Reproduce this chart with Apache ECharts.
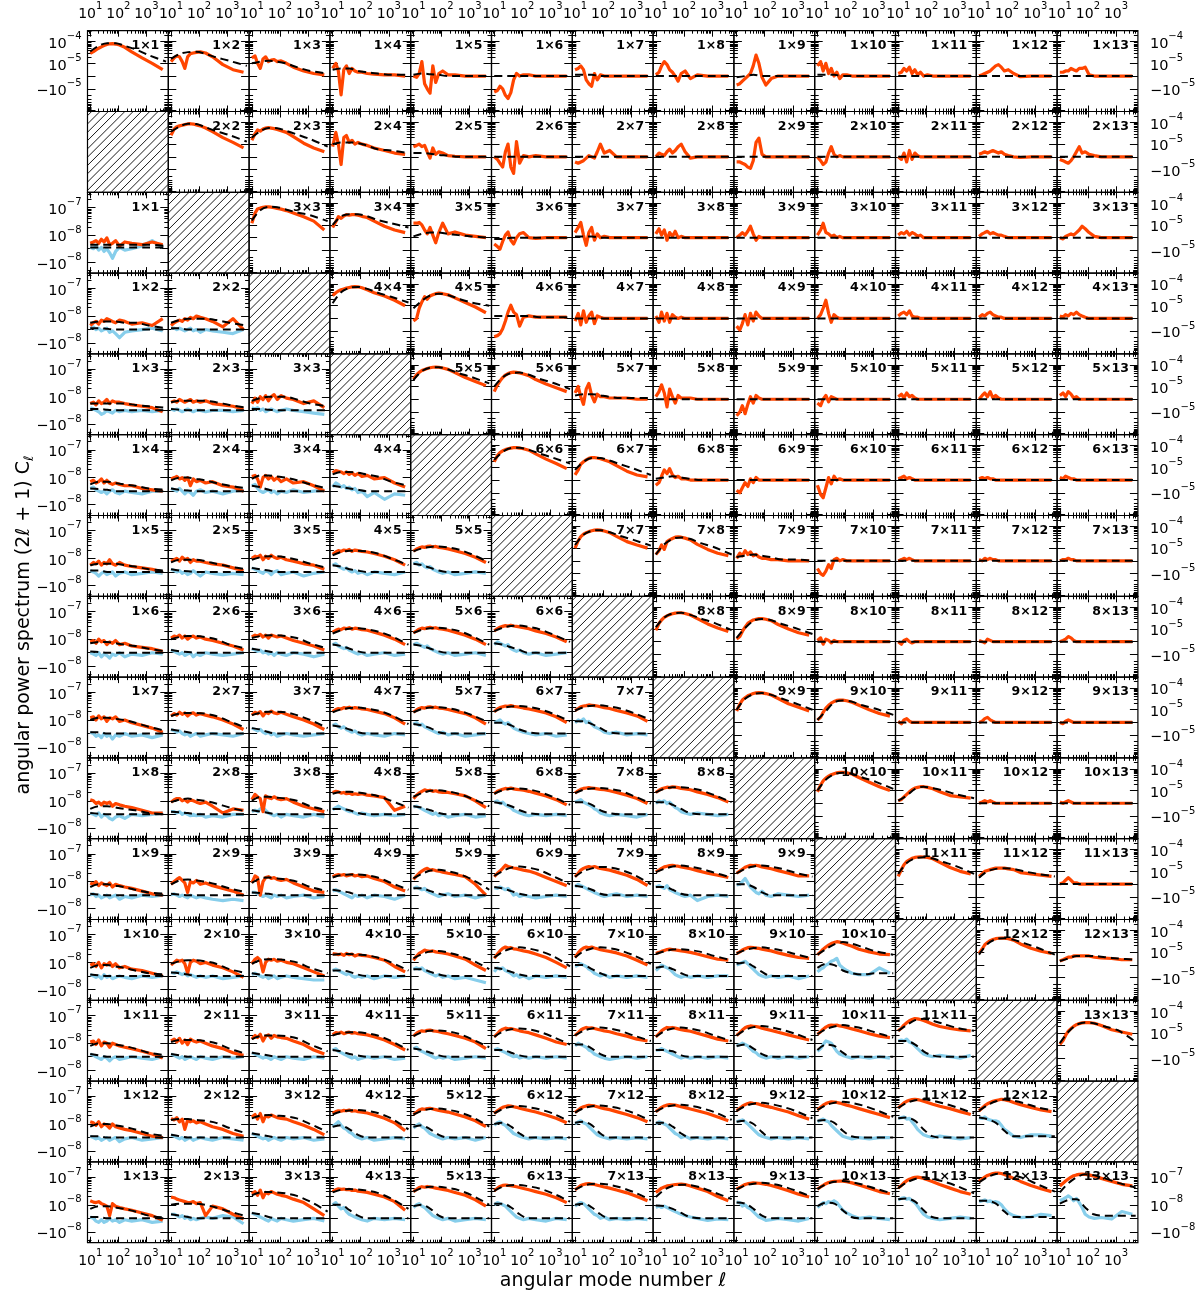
<!DOCTYPE html>
<html><head><meta charset="utf-8">
<script src="https://cdn.jsdelivr.net/npm/echarts@6/dist/echarts.min.js"></script>
<style>html,body{margin:0;padding:0;background:#fff}#c{width:1200px;height:1297px}</style>
</head><body><div id="c"></div><script>
// multipole samples (data curves) and model samples
const ELL = [10,13,16,20,25,31,39,49,62,80,110,170,300,700,1600,3800];
const MELL = [10,20,40,80,160,400,1200,5000];
// x tick labels (exponents of 10)
const X_TICK_EXP = [1,2,3];
// y tick labels: upper panels in units of 1e-6, lower panels in units of 1e-9
const UPPER_Y_TICKS = [100,10,-10];
const UPPER_Y_LABELS = [['10','\u22124'],['10','\u22125'],['\u221210','\u22125']];
const LOWER_Y_TICKS = [100,10,-10];
const LOWER_Y_LABELS = [['10','\u22127'],['10','\u22128'],['\u221210','\u22128']];

// ---------- upper triangle: (2l+1)Cl in units of 1e-6 ----------
const upperData_1 = [
 [29,35,42,50,58,66,74,80,82,78,70,55,34,18,10,5],
 [12,18,22,20,12,6,20,28,30,32,34,30,20,9,5,3],
 [18,22,10,6,16,20,12,14,15,12,13,10,7,4,2,1],
 [6,10,4,-19,5,8,2,6,4,3,3,2,1.5,1,1,0],
 [0,-1,2,12,-6,-10,-16,8,-5,2,4,1,1,0,0,0],
 [-14,-12,-8,-10,-20,-28,-15,-3,2,0,1,1,0,0,0,0],
 [5,6,8,5,-3,-6,-8,2,-3,1,0,0,0,0,0,0],
 [1,3,8,12,9,5,3,0,-4,2,4,-2,1,0,0,0],
 [-7,-6,-4,-2,0,2,8,24,10,-1,-7,-2,0,0,0,0],
 [8,12,4,10,2,6,0,3,-2,1,1,0,0,0,0,0],
 [2,3,6,4,7,2,5,1,3,0,1,0,0,0,0,0],
 [0,1,2,3,4,6,8,9,7,4,5,2,-0.5,0,0,0],
 [3,3,4,4,6,5,4,6,6,7,1,0,0,0,0,0]];
const upperModel_1 = [
 [35,65,85,85,66,45,24,12],[16,27,33,34,28,19,13,8],[10,12,13,12,10,7,4,2],[5,6,6,4,3,2,1,1],
 [1,2,1.5,1,0,0,0,0],[0,0,0,0,0,0,0,0],[1,1,1,0,0,0,0,0],[0,0,0,0,0,0,0,0],[-1,0,1,0,0,0,0,0],
 [1,1,1,0,0,0,0,0],[0,0,0,0,0,0,0,0],[0,0,0,0,0,0,0,0],[0,0,0,0,0,0,0,0]];
const upperData_2 = [
 [26,50,64,70,75,80,86,88,85,78,70,56,38,20,12,7],
 [15,30,45,40,50,55,58,55,52,48,42,35,22,11,7,4],
 [8,35,10,-6,20,25,12,15,10,12,10,9,7,5,3,2],
 [8,9,10,8,9,4,-1,7,2,4,3,1,0.5,0,0,0],
 [0,-2,-5,-8,4,10,-8,-15,13,-5,1,0,1,0,0,0],
 [-4,-5,-4,-3,-1,1,0,-1,4,10,3,5,0,0,0,0],
 [0,3,2,1,4,6,3,5,8,10,4,-1,0,0,0,0],
 [-4,-4,-5,-6,-8,-9,-3,12,19,2,0,0,0,0,0,0],
 [0,-3,-6,-4,3,8,2,0,1,0,0,0,0,0,0,0],
 [0,-2,3,-4,5,-2,3,1,0,0,0,0,0,0,0,0],
 [2,3,4,3,4,5,4,3,4,2,1,0,-0.5,0,0,0],
 [-2,-3,-4,-5,-3,0,4,8,3,4,2,1,0,0,0,0]];
const upperModel_2 = [
 [38,65,88,85,62,40,26,13],[20,40,56,55,42,28,17,8],[10,12,12,11,9,6,5,3],[3,3,2.5,1.5,1,0,0,0],
 [0,0,0,0,0,0,0,0],[0,0,0,0,0,0,0,0],[0,0,0,0,0,0,0,0],[0,0,0,0,0,0,0,0],[0,0,0,0,0,0,0,0],
 [0,0,0,0,0,0,0,0],[0,0,0,0,0,0,0,0],[0,0,0,0,0,0,0,0]];
const upperData_3 = [
 [12,35,55,60,66,68,68,66,62,58,54,46,36,24,15,6],
 [8,14,24,20,26,30,28,30,30,28,25,22,15,9,6,4],
 [12,12,13,10,6,3,8,2,-4,4,12,3,4.5,2,1,0],
 [-5,-7,-9,-3,2,4.5,-2,-5,0,3,4,0,-0.5,0,0,0],
 [4,8,13,2,-6,4,8,-2,3,0,1,0,0,0,0,0],
 [3,7,2,6,-2,4,1,5,0,1,0,0,0,0,0,0],
 [0,2,4,2,5,9,3,-2,1,0,0,0,0,0,0,0],
 [2,6,12,4,3,1,2,0,1,0,0,0,0,0,0,0],
 [2,4,3,5,2,4,3,1,2,0,0,0,0,0,0,0],
 [1,3,4,5,3,4,3,2,2,1,0,0,0,0,0,0],
 [0,-1,1,2,3,2,4,6,9,7,4,1,0,0,0,0]];
const upperModel_3 = [
 [16,48,69,66,52,38,28,15],[10,25,31,31,26,17,12,8],[1,3,4,4,3,2,1,0],[-1,-1,0,0,0,0,0,0],
 [1,1,1,0,0,0,0,0],[0,0,0,0,0,0,0,0],[0,0,0,0,0,0,0,0],[0,0,0,0,0,0,0,0],[0,0,0,0,0,0,0,0],
 [0,0,0,0,0,0,0,0],[0,0,0,0,0,0,0,0]];
const upperData_4 = [
 [30,40,48,55,60,65,70,74,76,75,68,55,40,28,18,10],
 [-2,0,8,15,26,20,28,32,36,38,36,32,23,14,9,4.5],
 [-18,-16,-13,-8,-2,5,10.5,5,3,-6,1,2,1,1,1,1],
 [-2,4,-5,6,-3,2,5,-4,2,1,0,0,0,0,0,0],
 [2,-3,5,-2,4,-3,3,1,0,1,0,0,0,0,0,0],
 [-6,-9,-4,3,-5,4,-2,5,2,0,0,0,0,0,0,0],
 [0,3,8,18,4,-3,3,1,0,0,0,0,0,0,0,0],
 [2,4,5,3,6,2,1,1,0,0,0,0,0,0,0,0],
 [1,3,2,4,5,3,2,1,1,0,0,0,0,0,0,0],
 [2,1,3,2,4,3,5,3,2,1,0,0,0,0,0,0]];
const upperModel_4 = [
 [13,42,67,74,62,40,26,14],[8,17,30,36,32,21,14,10],[2,2,2,2,2,1,1,1],[0,0,0,0,0,0,0,0],
 [0,0,0,0,0,0,0,0],[0,0,0,0,0,0,0,0],[0,0,0,0,0,0,0,0],[0,0,0,0,0,0,0,0],[0,0,0,0,0,0,0,0],
 [0,0,0,0,0,0,0,0]];
const upperData_5 = [
 [22,35,45,55,62,68,74,78,80,78,72,62,44,26,17,11],
 [6,12,18,26,34,40,44,46,45,42,38,32,21,13,9,6],
 [5,10,2,-4,8,14,3,-2,4,2,2,1,1,1,0,0],
 [2,6,12,5,-6,8,2,-3,3,1,1,1,0,0,0,0],
 [-15,-10,-5,-12,-4,2,-3,3,1,0,0,0,0,0,0,0],
 [-3,-5,0,3,-2,2,1,0,0,0,0,0,0,0,0,0],
 [2,4,1,5,2,3,1,0,0,0,0,0,0,0,0,0],
 [0,3,5,2,6,1,3,1,0,0,0,0,0,0,0,0],
 [3,5,2,6,4,1,2,0,0,0,0,0,0,0,0,0]];
const upperModel_5 = [
 [20,52,75,79,64,42,27,14],[10,27,42,44,36,23,15,8],[3,4,4,3,2,1,1,1],[0,0,0,0,0,0,0,0],
 [0,0,0,0,0,0,0,0],[0,0,0,0,0,0,0,0],[0,0,0,0,0,0,0,0],[0,0,0,0,0,0,0,0],[0,0,0,0,0,0,0,0]];
const upperData_6 = [
 [18,35,48,58,66,72,78,82,82,78,72,62,42,24,15,9],
 [4,8,14,18,22,26,28,28,27,25,22,18,12,7,4,2.5],
 [-4,-2,3,8,5,9,4,2,3,1,1,0,0,0,0,0],
 [-8,-10,-6,-2,-5,1,-2,2,0,0,0,0,0,0,0,0],
 [-4,-12,-17,-6,2,-3,3,0,1,0,0,0,0,0,0,0],
 [1,2,3,1,2,1,0,0,0,0,0,0,0,0,0,0],
 [1,2,1,2,1,1,0,0,0,0,0,0,0,0,0,0],
 [2,1,3,2,1,1,0,0,0,0,0,0,0,0,0,0]];
const upperModel_6 = [
 [22,52,78,81,66,44,28,15],[8,18,27,27,21,14,9,4],[1,2,3,2,1,0,0,0],[0,0,0,0,0,0,0,0],
 [0,0,0,0,0,0,0,0],[0,0,0,0,0,0,0,0],[0,0,0,0,0,0,0,0],[0,0,0,0,0,0,0,0]];
const upperData_7 = [
 [10,22,34,44,52,58,64,68,70,68,62,52,35,20,14,10],
 [5,8,14,9,20,24,28,32,33,32,29,24,15,9,6,4],
 [2,6,4,8,5,7,4,5,3,2,2,1,1,0,0,0],
 [-6,-10,-12,-8,-3,-6,1,2,0,1,0,0,0,0,0,0],
 [0,1,2,1,2,1,0,0,0,0,0,0,0,0,0,0],
 [1,0,2,1,2,1,1,0,0,0,0,0,0,0,0,0],
 [0,1,1,2,1,1,0,0,0,0,0,0,0,0,0,0]];
const upperModel_7 = [
 [14,42,63,68,56,37,24,13],[5,15,27,31,27,17,11,5],[3,4,5,4,3,1,1,0],[0,0,0,0,0,0,0,0],
 [0,0,0,0,0,0,0,0],[0,0,0,0,0,0,0,0],[0,0,0,0,0,0,0,0]];
const upperData_8 = [
 [9,18,26,34,40,46,50,54,56,56,52,44,30,17,11,8],
 [2,4,8,12,18,22,26,28,30,30,28,24,16,10,7,5],
 [1,3,-2,2,1,-1,1,0,0,0,0,0,0,0,0,0],
 [0,-2,1,2,0,-1,0,0,0,0,0,0,0,0,0,0],
 [1,0,-1,2,1,0,0,0,0,0,0,0,0,0,0,0],
 [0,1,2,4,3,1,0,0,0,0,0,0,0,0,0,0]];
const upperModel_8 = [
 [12,34,52,56,46,30,19,9],[3,11,24,29,26,17,11,6],[0,0,0,0,0,0,0,0],[0,0,0,0,0,0,0,0],
 [0,0,0,0,0,0,0,0],[0,0,0,0,0,0,0,0]];
const upperData_9 = [
 [9,18,28,36,44,50,56,60,62,60,56,48,33,19,13,9],
 [2,4,8,12,16,20,24,27,28,28,26,22,16,10,7,5],
 [1,-1,2,3,1,0,0,0,0,0,0,0,0,0,0,0],
 [0,1,3,4,2,1,0,0,0,0,0,0,0,0,0,0],
 [0,-1,1,2,1,0,0,0,0,0,0,0,0,0,0,0]];
const upperModel_9 = [
 [10,32,53,59,50,33,20,10],[2,9,22,27,24,16,11,6],[0,0,0,0,0,0,0,0],[0,0,0,0,0,0,0,0],[0,0,0,0,0,0,0,0]];
const upperData_10 = [
 [9,18,28,38,46,54,60,66,70,70,66,58,40,24,15,10],
 [2,3,5,7,9,11,13,14,15,15,14,12,9,6,5,4],
 [0,1,2,1,2,1,0,0,0,0,0,0,0,0,0,0],
 [1,0,1,2,1,0,0,0,0,0,0,0,0,0,0,0]];
const upperModel_10 = [[10,32,57,67,60,40,25,12],[2,6,12,15,13,10,7,4],[0,0,0,0,0,0,0,0],[0,0,0,0,0,0,0,0]];
const upperData_11 = [
 [6,12,20,28,34,40,44,46,47,46,44,38,26,15,10,8],
 [6,8,10,11,12,13,14,14,14,14,13,12,9,8,7,6],
 [0,1,3,5,3,1,1,0,0,0,0,0,0,0,0,0]];
const upperModel_11 = [[8,24,40,45,40,27,17,8],[5,10,13,14,13,10,8,6],[0,0,0,0,0,0,0,0]];
const upperData_12 = [
 [9,14,22,28,34,38,42,44,45,44,42,36,24,15,11,9],
 [3,4,5,6,6,7,7,7,7,7,7,6,5.5,5,4,4]];
const upperModel_12 = [[8,24,40,44,38,26,16,8],[3,5,7,7,7,6,5,4]];
const upperData_13 = [[1,4,8,12,16,20,24,27,29,30,30,28,22,14,11,9]];
const upperModel_13 = [[2,11,24,30,28,20,13,3]];

// ---------- lower triangle: (2l+1)Cl in units of 1e-9; index [j-1] for panel j x k ----------
const lowerOrange_1 = [[4,5,6,4,7,5,8,3,4,6,2,5,4,3,5,3]];
const lowerBlue_1 = [[1,0,2,-1,1,-2,0,-3,-7,-2,1,-1,0,2,6,1]];
const lowerOrangeModel_1 = [[3,3,3,3,3,3,3,2]];
const lowerBlueModel_1 = [[1,1,1,1,1,1,1,1]];

const lowerOrange_2 = [[3,5,6,4,7,6,8,7,6,5,7,6,4,5,3,8],[3,5,6,7,6,8,7,9,8,10,9,8,6,2,8,0]];
const lowerBlue_2 = [[1,2,0,1,-1,0,1,-2,-1,-3,-6,-2,-1,0,1,-1],[1,1,0,1,0,-1,0,1,-1,0,-2,0,-1,-2,-3,0]];
const lowerOrangeModel_2 = [[5,6,6,6,5,5,3,1],[5,7,8,8,8,7,5,3]];
const lowerBlueModel_2 = [[1,1,0.5,0,0,0,0,0],[1,1,0,0,0,0,0,0]];

const lowerOrange_3 = [[5,6,4,7,5,6,8,5,7,6,6,5,4,3,2,-1],[6,7,6,8,7,6,7,8,6,7,6,7,5,4,3,1],[5,9,6,10,8,11,7,10,12,8,11,9,8,5,7,2]];
const lowerBlue_3 = [[2,1,0,-1,-3,-2,0,-1,-2,0,-1,0,-1,0,-1,0],[1,0,1,0,-1,0,1,0,-1,0,0,-1,0,0,-1,0],[2,1,2,0,1,-1,0,1,0,-1,0,1,0,-1,-2,-3]];
const lowerOrangeModel_3 = [[5,5,5,5,5,4,3,2],[6,7,7,7,7,6,4,2],[7,9,10,10,10,8,5,3]];
const lowerBlueModel_3 = [[1,1,0.5,0,0,0,0,0],[1,0.5,0,0,0,0,0,0],[1,1,0.5,0,0,0,0,0]];

const lowerOrange_4 = [[7,8,6,7,9,6,8,6,5,6,5,4,4,2,1,0],[9,10,11,9,10,8,10,4,9,7,8,6,7,4,3,0],[11,12,9,3,10,12,9,11,8,10,7,9,6,7,4,0],[15,18,17,16,14,16,13,15,12,14,11,12,9,10,6,3]];
const lowerBlue_4 = [[2,3,1,0,-1,0,-2,0,1,-1,-2,0,-1,-2,0,0],[2,1,0,2,0,-2,0,-1,-3,0,1,-1,0,-2,0,1],[4,5,2,0,-1,0,1,-1,0,-2,0,-1,1,-1,0,1],[3,6,5,3,4,2,3,1,2,-1,0,-4,-1,-6,-2,-3]];
const lowerOrangeModel_4 = [[5,7,7,6,5,4,2,1],[8,10,10,9,8,6,4,2],[9,12,12,11,10,8,5,2],[13,16,16,15,13,11,7,4]];
const lowerBlueModel_4 = [[2,1.5,1,0,0,0,0,0],[2,1,0.5,0,0,0,0,0],[4,3,1,0,0,0,0,0],[4,3,2,1,0,0,0,0]];

const lowerOrange_5 = [[5,7,6,8,5,7,6,9,6,5,7,5,4,3,2,0],[8,9,10,8,11,9,10,7,9,8,8,7,6,5,3,1],[10,12,11,13,9,12,10,13,11,10,11,9,8,6,5,2],[14,17,19,18,20,19,21,18,20,19,18,17,15,12,9,5],[18,22,24,26,25,27,28,26,27,25,24,22,19,15,11,7]];
const lowerBlue_5 = [[1,0,-1,-3,-1,0,-2,-1,0,-3,-1,0,-2,-1,0,-1],[2,1,0,1,-1,0,-2,-1,1,-1,-3,0,-1,-2,-1,-2],[3,2,1,0,-1,1,0,-2,0,1,-2,-1,0,-3,-1,0],[5,6,4,3,2,3,1,0,1,-1,0,-2,0,-1,-2,0],[6,7,5,6,4,3,4,2,1,0,-1,0,-2,-1,0,-1]];
const lowerOrangeModel_5 = [[5,6,6,6,5,4,2,1],[7,9,9,9,8,6,4,2],[9,11,12,12,11,9,6,3],[13,17,19,19,18,15,10,5],[18,23,26,27,25,21,14,7]];
const lowerBlueModel_5 = [[1,1,0,0,0,0,0,0],[2,1,0.5,0,0,0,0,0],[3,2,1,0,0,0,0,0],[5,4,2,1,0,0,0,0],[6,5,3,1,0,0,0,0]];

const lowerOrange_6 = [[8,9,7,10,8,9,6,8,7,9,6,7,5,4,3,1],[11,13,12,14,11,13,10,12,13,11,12,10,9,7,5,2],[12,14,13,15,12,14,11,14,13,12,13,11,9,7,5,2],[18,21,23,22,25,24,26,23,25,24,22,21,18,14,10,6],[17,20,23,25,24,26,27,25,26,24,23,21,18,14,10,6],[20,24,27,29,31,30,32,30,29,28,26,24,20,16,12,8]];
const lowerBlue_6 = [[0,-1,-2,0,-3,-1,-2,-4,-1,-2,0,-3,-1,-2,0,-1],[2,1,0,-1,0,-2,-1,0,-3,-1,-2,0,-1,-2,-1,0],[3,2,1,2,0,1,-1,0,-2,0,-1,-2,0,-1,-3,-1],[6,7,5,4,3,4,2,1,0,-1,0,-2,-1,0,-2,-1],[6,7,6,5,4,5,3,2,1,0,-1,0,-2,-1,0,-2],[6,8,7,6,5,6,3,2,1,2,0,-1,0,-2,-1,0]];
const lowerOrangeModel_6 = [[7,8,8,7,6,5,3,1],[10,12,13,13,12,10,6,3],[11,13,14,14,13,11,7,3],[16,21,24,25,23,19,13,6],[17,22,25,26,24,20,13,6],[20,26,30,31,28,23,15,8]];
const lowerBlueModel_6 = [[1,0.5,0,0,0,0,0,0],[2,1,0.5,0,0,0,0,0],[3,2,1,0,0,0,0,0],[6,5,3,1,0,0,0,0],[6,5,3,1,0,0,0,0],[7,6,4,2,0,0,0,0]];

const lowerOrange_7 = [[12,13,10,14,11,13,9,12,11,13,9,10,8,6,4,1],[14,17,15,19,16,18,14,17,18,15,17,15,13,10,7,3],[15,19,17,20,14,19,17,21,18,17,19,16,13,10,7,3],[20,24,26,25,28,27,29,26,28,27,25,24,21,17,12,7],[19,23,26,28,27,29,30,28,29,27,26,24,21,17,12,7],[20,25,28,30,32,31,33,31,30,29,27,25,22,18,13,8],[22,26,30,32,33,35,34,33,32,30,28,26,22,18,14,9]];
const lowerBlue_7 = [[1,0,-2,-1,-3,0,-2,-1,-4,-1,-2,0,-2,-1,-3,-1],[3,2,1,2,0,-1,0,-2,-1,0,-2,-1,0,-1,-2,0],[4,3,2,3,1,0,1,-1,0,-2,-1,0,-1,-2,-1,0],[6,7,5,4,5,3,2,1,2,0,-1,0,-1,-2,0,-1],[7,8,6,7,5,4,3,2,1,0,1,-1,0,-2,-1,0],[8,9,10,8,7,8,6,4,3,2,1,0,-1,0,-2,-1],[8,10,9,11,8,9,7,5,4,3,1,0,1,-1,0,-1]];
const lowerOrangeModel_7 = [[10,12,12,11,10,8,5,2],[14,17,18,18,17,14,9,4],[15,18,20,20,19,15,10,4],[19,24,27,28,26,22,15,7],[19,25,28,29,27,22,15,8],[20,27,31,32,30,25,17,9],[22,29,33,34,31,26,18,10]];
const lowerBlueModel_7 = [[1,1,0,0,0,0,0,0],[3,2,1,0,0,0,0,0],[4,3,1,0,0,0,0,0],[6,5,3,1,0,0,0,0],[7,6,4,1,0,0,0,0],[8,8,6,3,1,0,0,0],[9,9,7,4,1,0,0,0]];

const lowerOrange_8 = [[11,10,8,9,7,9,8,9,6,8,7,6,5,3,1,1],[9,11,12,12,10,11,9,11,10,9,8,9,6,1,4,3],[11,17,14,12,2,15,13,12,14,12,11,12,9,6,4,2],[20,22,21,19,20,18,19,17,18,17,18,16,15,13,3,6],[12,16,19,22,25,23,24,22,23,21,20,20,18,15,10,5],[18,22,24,26,28,27,29,27,26,25,24,22,19,15,11,7],[19,23,26,28,29,30,29,28,27,26,25,23,20,16,12,8],[20,24,27,29,31,30,32,31,30,28,27,25,21,17,13,9]];
const lowerBlue_8 = [[1,0,-1,1,-2,0,-1,-3,-4,-2,-1,-3,0,-1,0,1],[2,2,1,2,0,1,0,-1,0,-1,0,-2,-1,-2,0,0],[2,3,2,4,5,3,1,0,-1,0,-2,0,-1,-2,0,-2],[3.5,5,6,5,4,3,2,2,1,0,1,0,-1,0,-1,0],[5.5,6,5,4,3,2,1,0,1,-1,0,-2,-1,0,-2,-1],[9,10,8,9,7,6,5,3,2,1,0,-1,0,-1,0,-1],[9,10,11,9,8,7,6,4,3,1,0,-1,0,-1,-2,0],[8,10,9,10,8,9,7,5,4,2,1,0,1,0,-1,0]];
const lowerOrangeModel_8 = [[4,6,6,5,4,3,1,0],[9,11,12,11,10,8,5,2],[10,14,14,13,12,10,6,3],[18,21,21,20,18,15,10,5],[14,19,23,24,22,18,12,6],[18,24,27,28,26,21,14,7],[19,25,28,29,27,23,15,8],[20,27,31,31,29,24,16,9]];
const lowerBlueModel_8 = [[1,0.5,0,0,0,0,0,0],[2,1.5,1,0,0,0,0,0],[3,2,1,0,0,0,0,0],[4,4,3,1,0,0,0,0],[6,5,3,1,0,0,0,0],[9,8,6,3,1,0,0,0],[9,9,7,3,1,0,0,0],[9,9,7,4,1,0,0,0]];

const lowerOrange_9 = [[9,8,10,7,9,8,7,9,6,8,7,6,5,3,1,0],[8,10,12,14,11,9,2,10,9,11,8,9,7,5,3,0],[9,16,14,0,10,14,15,13,14,12,11,12,9,6,3,2],[15,17,18,17,18,16,17,18,16,17,15,16,13,10,6,3],[12,16,20,24,28,30,26,27,25,24,22,20,18,15,8,0],[15,20,24,30,39,35,33,31,30,28,26,24,20,14,10,7],[15,20,26,30,33,35,33,35,32,30,28,26,22,17,12,7],[23,26,30,34,36,38,39,37,36,34,32,29,25,20,17,14],[20,24,28,33,36,39,38,39,37,34,32,29,25,20,16,16]];
const lowerBlue_9 = [[0,1,-1,0,-2,-1,0,-2,-1,0,-3,-1,-2,0,-1,0],[0,1,0,-1,0,-1,-2,0,-1,-2,-1,-2,-3,-4,-3,-4],[2,2,1,0,-1,0,-1,-2,0,-1,0,-2,-1,0,-2,-1],[3,4,3,2,1,0,-1,-2,0,-1,0,-2,0,-1,-3,0],[5,6,5,4,5,3,2,1,0,-1,0,1,-1,0,-2,0],[5.5,5,6,5,4,5,3,0,1,-1,0,-1,-2,-1,0,-1],[6,8,7,6,5,4,3,2,1,0,-1,0,1,-1,0,-1],[6,7,6,5,7,4,3,2,1,0,-1,0,-4,-1,0,-1],[7.5,8,10,13,9,6,4,2,1,3,0,-1,1,0,-1,0]];
const lowerOrangeModel_9 = [[6,8,8,7,6,4,2,1],[8,11,12,11,10,8,5,2],[9,13,14,13,12,10,6,3],[14,17,18,18,17,14,9,4],[13,19,25,27,24,19,12,4],[16,24,32,35,32,26,16,8],[15,24,30,34,33,27,18,8],[22,29,35,38,35,29,21,14],[20,29,35,38,35,29,21,15]];
const lowerBlueModel_9 = [[1,0.5,0,0,0,0,0,0],[1,0.5,0,0,0,0,0,0],[2,1.5,1,0,0,0,0,0],[4,3,2,0,0,0,0,0],[5,5,3,1,0,0,0,0],[6,5,3,1,0,0,0,0],[7,6,4,1,0,0,0,0],[6,6,4,1,0,0,0,0],[8,8,6,2,0,0,0,0]];

const lowerOrange_10 = [[8,9,7,10,6,9,8,10,7,9,6,7,5,4,2,0],[8,10,12,11,12,9,2,10,12,11,9,10,8,6,3,-1],[9,13,15,12,3,10,13,12,13,11,12,10,9,6,3,0],[21,20,19,20,18,21,19,20,17,19,18,17,15,12,7,3],[12,17,21,24,28,26,25,26,24,23,22,20,17,13,8,4],[14,20,26,32,36,33,34,31,30,28,26,24,20,15,10,6],[15,22,28,33,36,34,36,33,31,29,27,25,22,17,12,8],[21,23,25,27,29,30,29,28,27,26,25,23,20,16,13,12],[21,24,28,31,34,35,34,33,32,30,28,26,22,18,15,14],[19,24,30,36,42,48,52,56,54,50,44,38,30,24,20,19]];
const lowerBlue_10 = [[1,0,-1,0,-2,1,-1,0,-2,-1,0,-1,-2,0,-1,0],[2.5,2,3,2,1,2,0,1,0,-1,0,-1,0,-2,-1,0],[1,2,1,0,-1,0,-2,-1,0,-2,-1,0,-1,-2,-3,-3],[4,5,4,3,2,1,2,0,-1,0,-1,0,-2,0,-1,0],[5,6,5,6,4,3,2,1,0,1,-1,0,-2,-1,-3,-5],[3,6,5,6,4,3,2,0,1,-1,0,-2,0,-1,0,-1],[7,8,9,8,7,5,4,2,1,0,1,-1,0,-1,0,-1],[4,6,8,7,6,5,3,1,0,-1,0,-1,0,-1,0,0],[8,9,10,11,9,7,5,3,1,0,-1,0,-1,0,-2,0],[3,5,6,8,9,11,12,14,8,6,4,2,1,1,6,2]];
const lowerOrangeModel_10 = [[6,8,8,7,6,4,2,1],[9,11,12,12,11,9,5,2],[9,12,13,13,12,10,6,2],[19,20,20,19,18,15,10,4],[14,20,25,26,23,18,12,5],[15,24,32,35,32,26,17,7],[15,25,32,35,33,27,18,9],[20,25,29,30,28,24,17,12],[21,28,33,35,32,27,20,14],[19,30,45,54,48,36,25,19]];
const lowerBlueModel_10 = [[1,0.5,0,0,0,0,0,0],[2.5,2,1,0,0,0,0,0],[2,1,0.5,0,0,0,0,0],[4,4,3,1,0,0,0,0],[5,5,3,1,0,0,0,0],[6,5,3,1,0,0,0,0],[8,8,5,2,0,0,0,0],[6,7,5,2,0,0,0,0],[9,10,7,3,0,0,0,0],[6,9,8,4,2,1,2,2]];

const lowerOrange_11 = [[11,12,9,13,8,11,10,7,10,9,8,7,6,4,2,-1],[12,14,11,15,10,13,9,14,12,11,12,10,8,6,3,1],[14,19,16,21,12,18,20,15,19,17,16,15,12,9,5,2],[20,24,23,25,22,24,25,23,24,22,21,20,17,13,9,5],[18,23,26,28,27,29,30,28,27,26,24,22,19,15,11,6],[17,22,28,32,35,33,34,32,30,28,26,24,20,15,11,9],[19,24,30,34,37,35,36,34,32,30,28,26,22,18,14,12],[17,22,28,33,37,36,37,35,33,31,29,27,23,18,14,12],[19,24,30,36,40,42,41,40,38,35,32,29,25,20,16,13],[21,26,32,38,43,45,44,45,42,40,37,33,28,22,18,16],[28,35,45,55,65,72,78,76,72,66,58,48,40,34,30,28]];
const lowerBlue_11 = [[2,1,0,-1,-2,0,-1,-3,-1,0,-2,-1,0,-1,-2,0],[2,1,0,-1,0,-2,-1,0,-1,-2,0,-1,-2,0,-1,0],[3,2,1,0,-1,0,-1,-2,0,-1,-2,0,-1,-2,0,-1],[5,6,4,3,2,1,0,-1,0,-2,-1,0,-1,0,-2,-1],[6,7,5,4,3,2,1,0,-1,0,-1,0,-2,-1,0,-1],[5,6,5,4,3,2,1,0,1,-1,0,-1,0,-1,0,-1],[8,10,9,8,7,5,4,2,1,0,-1,-2,-1,0,-1,0],[4.8,5,6,5,4,3,2,1,0,-1,0,-1,0,-1,0,-1],[8,9,10,9,8,6,4,3,1,0,-1,0,-1,0,-1,0],[4,6,9,12,11,10,7,4,2,1,0,-1,0,-1,0,-1],[12,13,12,14,11,10,8,6,4,2,1,0,1,0,-1,1]];
const lowerOrangeModel_11 = [[8,10,10,9,8,6,3,1],[11,13,13,13,12,10,6,2],[14,18,19,19,18,15,9,4],[19,23,25,25,23,19,12,5],[18,25,28,29,27,22,14,7],[17,26,32,34,32,26,17,9],[19,28,34,37,34,28,19,12],[17,27,34,37,34,28,19,12],[19,30,38,42,38,31,22,13],[21,32,40,45,41,34,24,16],[28,45,68,76,66,50,36,28]];
const lowerBlueModel_11 = [[2,1,0,0,0,0,0,0],[2,1,0,0,0,0,0,0],[3,2,1,0,0,0,0,0],[5,4,2,1,0,0,0,0],[6,5,3,1,0,0,0,0],[5,5,3,1,0,0,0,0],[9,9,6,2,0,0,0,0],[5,5,4,1,0,0,0,0],[8,9,6,2,0,0,0,0],[5,9,8,3,0,0,0,0],[12,12,9,4,1,0,0,0]];

const lowerOrange_12 = [[12,11,9,12,8,10,9,7,10,8,7,6,5,3,1,0],[16,14,17,12,15,6,14,12,13,11,12,10,8,6,3,1],[18,22,15,24,12,20,18,21,19,17,16,15,12,9,6,2],[24,28,30,29,31,30,32,29,30,28,27,25,21,16,11,5],[22,27,32,35,34,36,37,35,33,31,29,27,23,18,13,8],[24,30,35,40,43,45,44,42,40,37,34,31,27,21,16,11],[26,32,38,42,45,47,46,45,42,39,36,33,28,22,17,12],[28,34,40,45,48,50,49,48,45,42,39,35,30,24,18,13],[30,37,44,50,55,58,56,55,52,48,44,40,34,27,20,15],[32,40,48,55,60,63,62,60,57,53,48,43,36,28,22,17],[38,48,58,66,72,76,78,76,72,66,60,52,44,36,28,22],[30,38,46,54,60,66,70,74,78,76,70,60,50,40,32,28]];
const lowerBlue_12 = [[1,0,-1,0,-2,-1,0,-2,-1,0,-3,-1,0,-2,-1,0],[2,1,0,-1,0,-2,-1,0,-2,-1,0,-1,-2,0,-1,-2],[3,2,1,0,-1,0,-2,-1,0,-1,-2,0,-1,0,-2,-1],[8,10,12,9,7,6,4,3,1,0,-1,0,-2,-1,0,-1],[7,9,10,8,7,5,3,2,1,0,-1,0,-1,0,-2,0],[9,11,12,10,9,7,5,3,2,1,0,-1,0,-1,0,-1],[10,12,13,11,10,8,6,4,2,1,0,-1,0,-1,0,-1],[10,12,11,10,9,7,5,3,2,0,1,-1,0,-1,0,-1],[12,13,14,12,10,8,6,4,2,1,0,-1,0,-1,0,-1],[12,14,15,13,12,9,7,5,3,1,0,-1,0,-1,0,0],[16,17,18,15,16,12,9,6,4,2,1,0,1,0,-1,0],[17,16,18,15,14,13,13,12,9,6,4,1,0,2,2,1]];
const lowerOrangeModel_12 = [[8,10,10,9,8,6,3,1],[14,15,15,14,13,11,7,3],[16,20,21,20,19,16,10,4],[22,28,31,32,30,25,16,6],[22,30,35,36,33,27,18,8],[24,35,42,45,41,34,24,12],[26,37,44,47,43,36,25,13],[28,40,47,50,46,38,27,14],[30,44,54,58,53,43,30,16],[32,48,59,63,58,47,32,18],[38,58,72,78,70,56,40,24],[30,48,66,76,70,56,40,30]];
const lowerBlueModel_12 = [[1,1,0,0,0,0,0,0],[2,1,0,0,0,0,0,0],[3,2,1,0,0,0,0,0],[8,9,6,2,0,0,0,0],[8,9,6,2,0,0,0,0],[10,11,8,3,0,0,0,0],[11,12,9,3,0,0,0,0],[11,11,8,3,0,0,0,0],[12,13,10,4,0,0,0,0],[13,14,11,5,1,0,0,0],[16,17,13,6,1,0,0,0],[17,15,11,5,1,1,1,1]];

const lowerOrange_13 = [[14,12.5,12,13,11,10,9,2,11,9,8,7,6,4,2,-1.5],[19,18,16,15,14,13,12,12,13,11,12,2,9,7,3,-0.5],[25,30,22,34,18,28,25,30,27,24,22,20,16,12,7,2],[30,35,38,36,37,35,36,33,34,31,30,28,24,19,13,6],[30,36,42,45,43,46,44,42,40,38,36,33,28,22,15,9],[32,40,46,50,52,50,49,47,45,42,39,35,30,24,18,12],[35,42,50,54,57,58,56,54,51,48,44,40,34,27,20,14],[28,34,40,44,48,50,52,54,55,56,54,48,40,30,20,14],[37,42,48,54,58,60,62,61,60,58,55,50,42,32,24,19],[37,44,50,58,64,68,70,71,72,72,68,62,52,40,30,25],[40,50,62,74,84,92,98,100,96,90,80,68,54,40,30,24],[70,85,100,115,125,135,140,140,135,125,110,90,70,50,38,30],[48,60,72,85,100,112,120,126,128,126,120,108,90,70,55,48]];
const lowerBlue_13 = [[1,0,-2,-3,-1,-3,-2,0,-2,-1,-3,-1,-2,-1,-3,-2],[3,3,2,1,2,0,1,-1,0,-1,0,1,0,2,1,-4],[4,3,2,1,0,-1,-2,0,-1,-2,0,-1,-2,-1,0,-2],[10,12,9,7,8,5,3,2,1,0,-1,-2,0,-1,0,-1],[8,10,11,9,8,6,4,2,1,0,-1,0,-2,-1,0,-1],[10,12,11,10,9,7,5,3,1,0,-1,0,-1,-2,0,-1],[9,11,12,11,9,7,5,3,2,0,1,-1,0,-1,0,-1],[8,9,8,9,8,7,6,5,4,3,2,1,0,-1.6,-0.5,-1],[12.5,12,9,10,8,7,5,3,1,0,-1.5,-1,0,-1,-2,0],[8,10,12,11,13,12,14,12,9,6,4,2,0,1,0,-1],[15,17,18,16,17,14,12,9,6,3,1,0,-1,0,1,0],[13,14,15,13,14,12,13,12,10,7,4,2,0.6,1,3,2],[14,16,18,21,18,14,17,12,8,3,1,0,0.6,-0.5,5,3]];
const lowerOrangeModel_13 = [[7,9,9,8,7,5,2,0.5],[10,11,11,11,10,8,5,1.5],[22,28,29,28,26,21,13,5],[28,35,37,36,33,27,17,7],[30,40,45,45,41,34,22,10],[32,45,51,52,47,39,26,13],[35,49,56,58,53,43,29,15],[19,35,48,53,52,42,28,16],[36,50,58,62,58,48,33,19],[37,55,68,72,66,54,38,25],[40,64,86,98,88,70,48,26],[65,100,130,138,120,90,55,30],[28,60,100,126,118,90,62,42]];
const lowerBlueModel_13 = [[1,1,0,0,0,0,0,0],[3,2,1,0,0,0,0,0],[4,3,1,0,0,0,0,0],[10,10,6,2,0,0,0,0],[9,10,7,2,0,0,0,0],[11,11,8,3,0,0,0,0],[10,11,8,3,0,0,0,0],[9.5,9,7,4,1,0,0,0],[12,11,7,2,0,0,0,0],[9,12,11,6,1,0,0,0],[16,17,13,6,1,0,0,0],[14,14,11,5,1,1,1,1],[11,15,16,8,3,2,2,2]];

const UPPER_DATA = [upperData_1,upperData_2,upperData_3,upperData_4,upperData_5,upperData_6,upperData_7,upperData_8,upperData_9,upperData_10,upperData_11,upperData_12,upperData_13];
const UPPER_MODEL = [upperModel_1,upperModel_2,upperModel_3,upperModel_4,upperModel_5,upperModel_6,upperModel_7,upperModel_8,upperModel_9,upperModel_10,upperModel_11,upperModel_12,upperModel_13];
const LOWER_O = [lowerOrange_1,lowerOrange_2,lowerOrange_3,lowerOrange_4,lowerOrange_5,lowerOrange_6,lowerOrange_7,lowerOrange_8,lowerOrange_9,lowerOrange_10,lowerOrange_11,lowerOrange_12,lowerOrange_13];
const LOWER_B = [lowerBlue_1,lowerBlue_2,lowerBlue_3,lowerBlue_4,lowerBlue_5,lowerBlue_6,lowerBlue_7,lowerBlue_8,lowerBlue_9,lowerBlue_10,lowerBlue_11,lowerBlue_12,lowerBlue_13];
const LOWER_OM = [lowerOrangeModel_1,lowerOrangeModel_2,lowerOrangeModel_3,lowerOrangeModel_4,lowerOrangeModel_5,lowerOrangeModel_6,lowerOrangeModel_7,lowerOrangeModel_8,lowerOrangeModel_9,lowerOrangeModel_10,lowerOrangeModel_11,lowerOrangeModel_12,lowerOrangeModel_13];
const LOWER_BM = [lowerBlueModel_1,lowerBlueModel_2,lowerBlueModel_3,lowerBlueModel_4,lowerBlueModel_5,lowerBlueModel_6,lowerBlueModel_7,lowerBlueModel_8,lowerBlueModel_9,lowerBlueModel_10,lowerBlueModel_11,lowerBlueModel_12,lowerBlueModel_13];

// ---------- layout / style ----------
const X0=87.5, Y0=30.7, CW=80.8, CH=80.8, NR=15, NC=13;
const XMIN=Math.log10(8), XMAX=Math.log10(6000);
const UP={t:10,a:0.59,min:-1.64,max:2.10};
const LO={t:10,a:0.49,min:-0.88,max:2.04};
const ORANGE='#ff4500', BLUE='#87ceeb';
const FONT='DejaVu Sans';
function sym(v,s){const av=Math.abs(v); if(av<=s.t) return s.a*v/s.t; return Math.sign(v)*(s.a+Math.log10(av/s.t));}

const XMAJ=X_TICK_EXP.slice();
const XMINOR=[];
for(let n=0;n<4;n++) for(let k=2;k<=9;k++){const v=Math.log10(k*Math.pow(10,n)); if(v>XMIN+0.005&&v<XMAX-0.005) XMINOR.push(v);}
function yTicks(s){
  const major=[100,10,0,-10,-100].map(v=>sym(v,s)).filter(u=>u>s.min&&u<s.max);
  const minor=[];
  [1,10,100].forEach(d=>{for(let k=2;k<=9;k++){[k*d,-k*d].forEach(v=>{const u=sym(v,s); if(u>s.min+0.01&&u<s.max-0.01&&Math.abs(v)>10) minor.push(u);});}});
  return {major,minor};
}
const TK_UP=yTicks(UP), TK_LO=yTicks(LO);

const RICH={
  b:{fontSize:14.5,fontFamily:FONT,color:'#000',lineHeight:20,verticalAlign:'bottom'},
  s:{fontSize:10,fontFamily:FONT,color:'#000',verticalAlign:'top'}
};
const RICHX={
  b:{fontSize:14,fontFamily:FONT,color:'#000',lineHeight:20,verticalAlign:'bottom'},
  s:{fontSize:10,fontFamily:FONT,color:'#000',verticalAlign:'top'}
};

const grid=[], xAxis=[], yAxis=[], series=[], graphic=[];

function mkX(gi,pos,vals,len,labels){
  return {type:'value',gridIndex:gi,position:pos,min:XMIN,max:XMAX,
    axisLine:{show:false,onZero:false},splitLine:{show:false},
    axisTick:{show:true,inside:true,length:len,customValues:vals,lineStyle:{color:'#000',width:1}},
    axisLabel:labels?{show:true,customValues:XMAJ,margin:pos==='top'?9:6,color:'#000',rich:RICHX,
      formatter:v=>'{b|10}{s|'+Math.round(v)+'}'}:{show:false}};
}
function mkY(gi,pos,s,vals,len,labels){
  const ticksV = s===UP?UPPER_Y_TICKS:LOWER_Y_TICKS;
  const labs = s===UP?UPPER_Y_LABELS:LOWER_Y_LABELS;
  const us = ticksV.map(v=>sym(v,s));
  return {type:'value',gridIndex:gi,position:pos,min:s.min,max:s.max,
    axisLine:{show:false,onZero:false},splitLine:{show:false},
    axisTick:{show:true,inside:true,length:len,customValues:vals,lineStyle:{color:'#000',width:1}},
    axisLabel:labels?{show:true,customValues:us,margin:pos==='left'?6:12,color:'#000',rich:RICH,
      formatter:v=>{let bi=0,bd=1e9;us.forEach((u,i)=>{const d=Math.abs(u-v);if(d<bd){bd=d;bi=i;}});return '{b|'+labs[bi][0]+'}{s|'+labs[bi][1]+'}';}}:{show:false}};
}

function addPanel(r,c,s,title,lines){
  const gi=grid.length;
  const left=X0+c*CW, top=Y0+r*CH;
  grid.push({left:left,top:top,width:CW,height:CH,show:true,borderColor:'#000',borderWidth:1.2,backgroundColor:'transparent',outerBoundsMode:'none'});
  const xi=xAxis.length;
  xAxis.push(mkX(gi,'bottom',XMAJ,6,r===NR-1), mkX(gi,'bottom',XMINOR,3,false),
             mkX(gi,'top',XMAJ,6,r===0), mkX(gi,'top',XMINOR,3,false));
  const yi=yAxis.length;
  const tk = s===UP?TK_UP:TK_LO;
  yAxis.push(mkY(gi,'left',s,tk.major,8,c===0), mkY(gi,'left',s,tk.minor,4,false),
             mkY(gi,'right',s,tk.major,8,c===NC-1), mkY(gi,'right',s,tk.minor,4,false));
  lines.forEach(L=>{
    series.push({type:'line',xAxisIndex:xi,yAxisIndex:yi,silent:true,animation:false,
      symbol:'none',showSymbol:false,smooth:L.dash?0.3:false,z:L.dash?4:2,
      lineStyle:{color:L.color,width:L.dash?2:3.2,type:L.dash?[8,5]:'solid',cap:'butt',join:'round'},
      itemStyle:{color:L.color},
      data:L.d.map((v,k)=>[Math.log10(L.x[k]), sym(v,s)])});
  });
  graphic.push({type:'text',x:left+CW-9,y:top+15,z:50,silent:true,
    style:{text:title,font:'bold 12.5px "DejaVu Sans"',fill:'#000',textAlign:'right',textVerticalAlign:'middle',verticalAlign:'middle'}});
}

function addHatch(r,c){
  const L=X0+c*CW, T=Y0+r*CH, W=CW, H=CH, step=8.3;
  for(let d=step/2; d<W+H; d+=step){
    const xa=Math.max(0,d-H), xb=Math.min(W,d);
    graphic.push({type:'line',silent:true,z:5,shape:{x1:L+xa,y1:T+(d-xa),x2:L+xb,y2:T+(d-xb)},style:{stroke:'#000',lineWidth:0.9}});
  }
  graphic.push({type:'rect',silent:true,z:6,shape:{x:L,y:T,width:W,height:H},style:{fill:'none',stroke:'#000',lineWidth:1.2}});
}

for(let r=0;r<NR;r++){
  for(let c=0;c<NC;c++){
    if(r<=12 && c>=r){
      addPanel(r,c,UP,(r+1)+'\u00d7'+(c+1),[
        {d:UPPER_DATA[r][c-r],x:ELL,color:ORANGE},
        {d:UPPER_MODEL[r][c-r],x:MELL,color:'#000',dash:true}]);
    } else if(c===r-1){
      addHatch(r,c);
    } else {
      const k=r-1, j=c+1;
      addPanel(r,c,LO,j+'\u00d7'+k,[
        {d:LOWER_B[k-1][j-1],x:ELL,color:BLUE},
        {d:LOWER_O[k-1][j-1],x:ELL,color:ORANGE},
        {d:LOWER_BM[k-1][j-1],x:MELL,color:'#000',dash:true},
        {d:LOWER_OM[k-1][j-1],x:MELL,color:'#000',dash:true}]);
    }
  }
}

// axis titles
graphic.push({type:'text',x:24,y:625,rotation:Math.PI/2,silent:true,
  style:{text:'{a|angular power spectrum (2\u2113 + 1) C}{u|\u2113}',textAlign:'center',textVerticalAlign:'middle',verticalAlign:'middle',
    rich:{a:{fontSize:19,fontFamily:FONT,fill:'#000',color:'#000',lineHeight:24,verticalAlign:'middle'},
          u:{fontSize:13,fontFamily:FONT,fill:'#000',color:'#000',verticalAlign:'bottom'}}}});
graphic.push({type:'text',x:613,y:1281,silent:true,
  style:{text:'angular mode number \u2113',font:'19px "DejaVu Sans"',fill:'#000',textAlign:'center',textVerticalAlign:'middle',verticalAlign:'middle'}});

const chart=echarts.init(document.getElementById('c'),null,{renderer:'canvas'});
chart.setOption({animation:false,backgroundColor:'#fff',textStyle:{fontFamily:FONT},
  grid:grid,xAxis:xAxis,yAxis:yAxis,series:series,graphic:graphic});
</script></body></html>
